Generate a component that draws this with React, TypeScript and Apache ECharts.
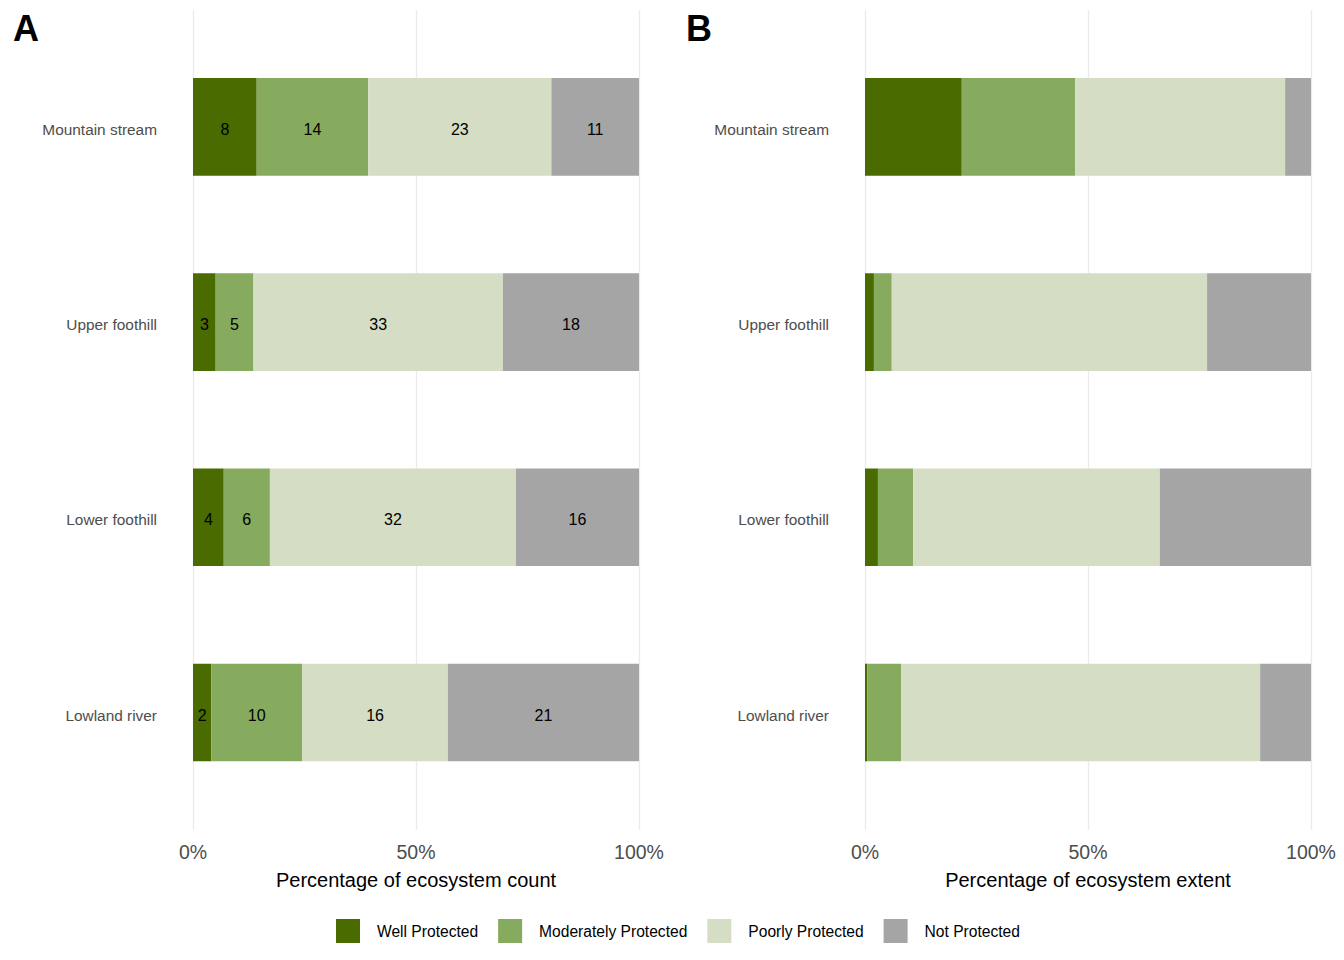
import React, { useEffect, useRef } from "react";
import * as echarts from "echarts";

const categories = ["Mountain stream", "Upper foothill", "Lower foothill", "Lowland river"];
const levels = ["Well Protected", "Moderately Protected", "Poorly Protected", "Not Protected"];
const colors = ["#4a6b00", "#86ab5e", "#d5ddc4", "#a5a5a5"];

// Panel A: ecosystem counts per protection level (per category)
const countWell = [8, 3, 4, 2];
const countModerate = [14, 5, 6, 10];
const countPoorly = [23, 33, 32, 16];
const countNot = [11, 18, 16, 21];

// Panel B: percentage of ecosystem extent
const extentWell = [21.7, 2.0, 2.9, 0.5];
const extentModerate = [25.4, 4.0, 7.9, 7.6];
const extentPoorly = [47.1, 70.7, 55.3, 80.5];
const extentNot = [5.8, 23.3, 33.9, 11.4];

const xTicks = [0, 50, 100];

const FONT = "'Liberation Sans', Arial, sans-serif";

export default function App() {
  const ref = useRef<HTMLDivElement>(null);

  useEffect(() => {
    if (!ref.current) return;
    const chart = echarts.init(ref.current, undefined, { renderer: "svg" });

    const countSets = [countWell, countModerate, countPoorly, countNot];
    const totals = categories.map((_, i) => countSets.reduce((s, arr) => s + arr[i], 0));
    const extentSets = [extentWell, extentModerate, extentPoorly, extentNot];

    const barTop = 29.3;
    const barHeight = 780.8;

    const seriesA = levels.map((name, k) => ({
      name,
      type: "bar",
      stack: "A",
      xAxisIndex: 0,
      yAxisIndex: 0,
      barWidth: "50%",
      itemStyle: { color: colors[k] },
      label: {
        show: true,
        position: "inside",
        offset: [0, 2.5],
        color: "#000",
        fontSize: 16,
        fontFamily: FONT,
        formatter: (p: any) => String(countSets[k][p.dataIndex]),
      },
      data: countSets[k].map((v, i) => (v / totals[i]) * 100),
    }));

    const seriesB = levels.map((name, k) => ({
      name,
      type: "bar",
      stack: "B",
      xAxisIndex: 1,
      yAxisIndex: 1,
      barWidth: "50%",
      itemStyle: { color: colors[k] },
      data: extentSets[k],
    }));

    const catAxis = (gridIndex: number, showLabels: boolean) => ({
      type: "category",
      gridIndex,
      data: categories,
      inverse: true,
      axisLine: { show: false },
      axisTick: { show: false },
      axisLabel: {
        show: showLabels,
        color: "#4d4d4d",
        fontSize: 15.4,
        fontFamily: FONT,
        margin: 36,
      },
    });

    const hiddenX = (gridIndex: number) => ({
      type: "value",
      gridIndex,
      min: 0,
      max: 100,
      show: false,
    });

    const bgX = (gridIndex: number, name: string) => ({
      type: "value",
      gridIndex,
      min: xTicks[0],
      max: xTicks[xTicks.length - 1],
      interval: 50,
      axisLine: { show: false },
      axisTick: { show: false },
      splitLine: { show: true, lineStyle: { color: "#ebebeb", width: 1.3 } },
      axisLabel: {
        color: "#4d4d4d",
        fontSize: 19.5,
        fontFamily: FONT,
        margin: 12,
        formatter: (v: number) => v + "%",
      },
      name,
      nameLocation: "middle",
      nameGap: 40,
      nameTextStyle: { color: "#000", fontSize: 20, fontFamily: FONT },
    });

    const bgY = (gridIndex: number) => ({
      type: "value",
      gridIndex,
      show: false,
    });

    chart.setOption({
      animation: false,
      backgroundColor: "#fff",
      textStyle: { fontFamily: FONT },
      grid: [
        { left: 193, top: barTop, width: 446, height: barHeight },
        { left: 865, top: barTop, width: 446, height: barHeight },
        { left: 193, top: 10, width: 446, height: 820 },
        { left: 865, top: 10, width: 446, height: 820 },
        { left: 193, top: barTop + 2.5, width: 446, height: barHeight },
        { left: 865, top: barTop + 2.5, width: 446, height: barHeight },
      ],
      xAxis: [
        hiddenX(0),
        hiddenX(1),
        bgX(2, "Percentage of ecosystem count"),
        bgX(3, "Percentage of ecosystem extent"),
        hiddenX(4),
        hiddenX(5),
      ],
      yAxis: [
        catAxis(0, false),
        catAxis(1, false),
        bgY(2),
        bgY(3),
        catAxis(4, true),
        catAxis(5, true),
      ],
      legend: {
        data: levels,
        left: 331,
        top: 914,
        itemWidth: 24,
        itemHeight: 24,
        itemGap: 20,
        icon: "rect",
        textStyle: { color: "#000", fontSize: 15.6, fontFamily: FONT, padding: [0, 0, 0, 12] },
      },
      graphic: [
        {
          type: "text",
          x: 13,
          y: 28,
          style: { text: "A", fontSize: 36, fontWeight: "bold", fill: "#000", fontFamily: FONT, verticalAlign: "middle" },
        },
        {
          type: "text",
          x: 686,
          y: 28,
          style: { text: "B", fontSize: 36, fontWeight: "bold", fill: "#000", fontFamily: FONT, verticalAlign: "middle" },
        },
      ],
      series: [...seriesA, ...seriesB],
    });

    return () => chart.dispose();
  }, []);

  return (
    <div
      ref={ref}
      style={{ position: "absolute", left: 0, top: 0, width: 1344, height: 960 }}
    />
  );
}
